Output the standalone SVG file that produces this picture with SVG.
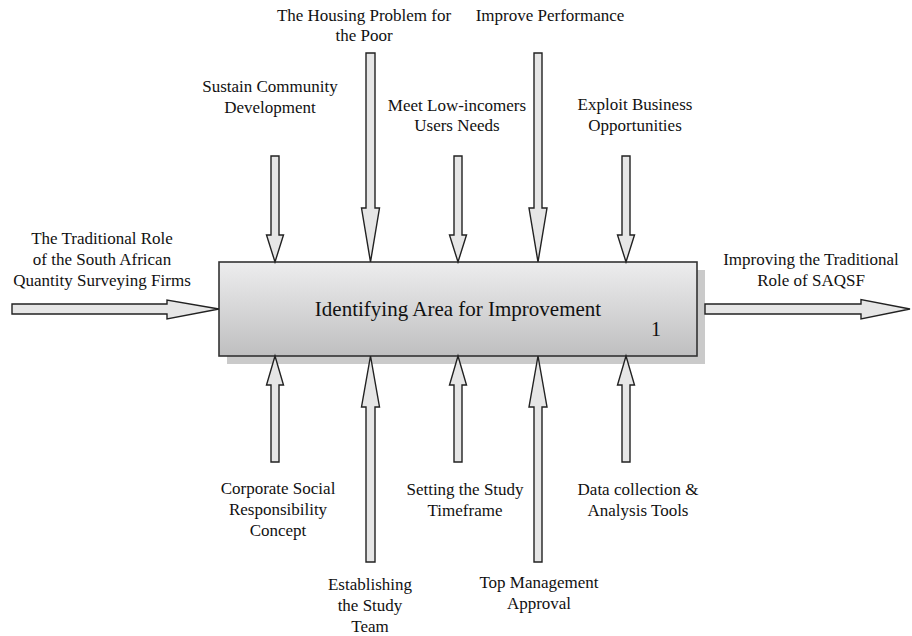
<svg xmlns="http://www.w3.org/2000/svg" width="912" height="636" viewBox="0 0 912 636">
<style>
.lbl{font-family:"Liberation Serif","Times New Roman",serif;font-size:17px;fill:#111;text-anchor:middle}
.ttl{font-family:"Liberation Serif","Times New Roman",serif;font-size:21px;fill:#111;text-anchor:middle}
.arr{fill:#e6e6e6;stroke:#222;stroke-width:1.4;stroke-linejoin:miter}
</style>
<defs>
<linearGradient id="g" x1="0" y1="0" x2="0" y2="1">
<stop offset="0" stop-color="#ededee"/>
<stop offset="1" stop-color="#bfbfc0"/>
</linearGradient>
</defs>
<rect width="912" height="636" fill="#fff"/>
<g id="activity">
<rect x="227" y="270" width="478" height="94" fill="#cacaca"/>
<rect x="219" y="262" width="478" height="94" fill="url(#g)" stroke="#333" stroke-width="1.6"/>
<text class="ttl" x="458" y="316">Identifying Area for Improvement</text>
<text class="ttl" x="656" y="336" style="font-size:20px">1</text>
</g>
<g id="connectors">
<!-- input -->
<polygon class="arr" points="12,304 167,304 167,300 219,309 167,319 167,314 12,314"/>
<!-- output -->
<polygon class="arr" points="705,304 861,304 861,299.5 910,309 861,319 861,314 705,314"/>
<!-- top short -->
<polygon class="arr" points="271,156 279,156 279,235 283.5,235 275,262 266.5,235 271,235"/>
<polygon class="arr" points="454,156 462,156 462,235 466.5,235 458,262 449.5,235 454,235"/>
<polygon class="arr" points="622,156 630,156 630,235 634.5,235 626,262 617.5,235 622,235"/>
<!-- top long -->
<polygon class="arr" points="366,53 375,53 375,208 379.5,208 370.5,262 361.5,208 366,208"/>
<polygon class="arr" points="534,53 542,53 542,208 547,208 538,262 529,208 534,208"/>
<!-- bottom short -->
<polygon class="arr" points="271,462 279,462 279,385 283.5,385 275,356 266.5,385 271,385"/>
<polygon class="arr" points="454,462 462,462 462,385 466.5,385 458,356 449.5,385 454,385"/>
<polygon class="arr" points="622,462 630,462 630,385 634.5,385 626,356 617.5,385 622,385"/>
<!-- bottom long -->
<polygon class="arr" points="366,562 375,562 375,407 379.5,407 370.5,356 361.5,407 366,407"/>
<polygon class="arr" points="534,562 542,562 542,407 547,407 538,356 529,407 534,407"/>
</g>
<g id="label-input">
<text class="lbl" x="102" y="244">The Traditional Role</text>
<text class="lbl" x="102" y="265">of the South African</text>
<text class="lbl" x="102" y="286">Quantity Surveying Firms</text>
</g>
<g id="label-output">
<text class="lbl" x="811" y="265">Improving the Traditional</text>
<text class="lbl" x="811" y="286">Role of SAQSF</text>
</g>
<g id="label-housing">
<text class="lbl" x="364" y="21">The Housing Problem for</text>
<text class="lbl" x="364" y="41">the Poor</text>
</g>
<g id="label-performance">
<text class="lbl" x="550" y="21">Improve Performance</text>
</g>
<g id="label-sustain">
<text class="lbl" x="270" y="92">Sustain Community</text>
<text class="lbl" x="270" y="113">Development</text>
</g>
<g id="label-meet">
<text class="lbl" x="457" y="111">Meet Low-incomers</text>
<text class="lbl" x="457" y="131">Users Needs</text>
</g>
<g id="label-exploit">
<text class="lbl" x="635" y="110">Exploit Business</text>
<text class="lbl" x="635" y="131">Opportunities</text>
</g>
<g id="label-csr">
<text class="lbl" x="278" y="494">Corporate Social</text>
<text class="lbl" x="278" y="515">Responsibility</text>
<text class="lbl" x="278" y="536">Concept</text>
</g>
<g id="label-team">
<text class="lbl" x="370" y="590">Establishing</text>
<text class="lbl" x="370" y="611">the Study</text>
<text class="lbl" x="370" y="632">Team</text>
</g>
<g id="label-timeframe">
<text class="lbl" x="465" y="495">Setting the Study</text>
<text class="lbl" x="465" y="516">Timeframe</text>
</g>
<g id="label-approval">
<text class="lbl" x="539" y="588">Top Management</text>
<text class="lbl" x="539" y="609">Approval</text>
</g>
<g id="label-tools">
<text class="lbl" x="638" y="495">Data collection &amp;</text>
<text class="lbl" x="638" y="516">Analysis Tools</text>
</g>
</svg>
